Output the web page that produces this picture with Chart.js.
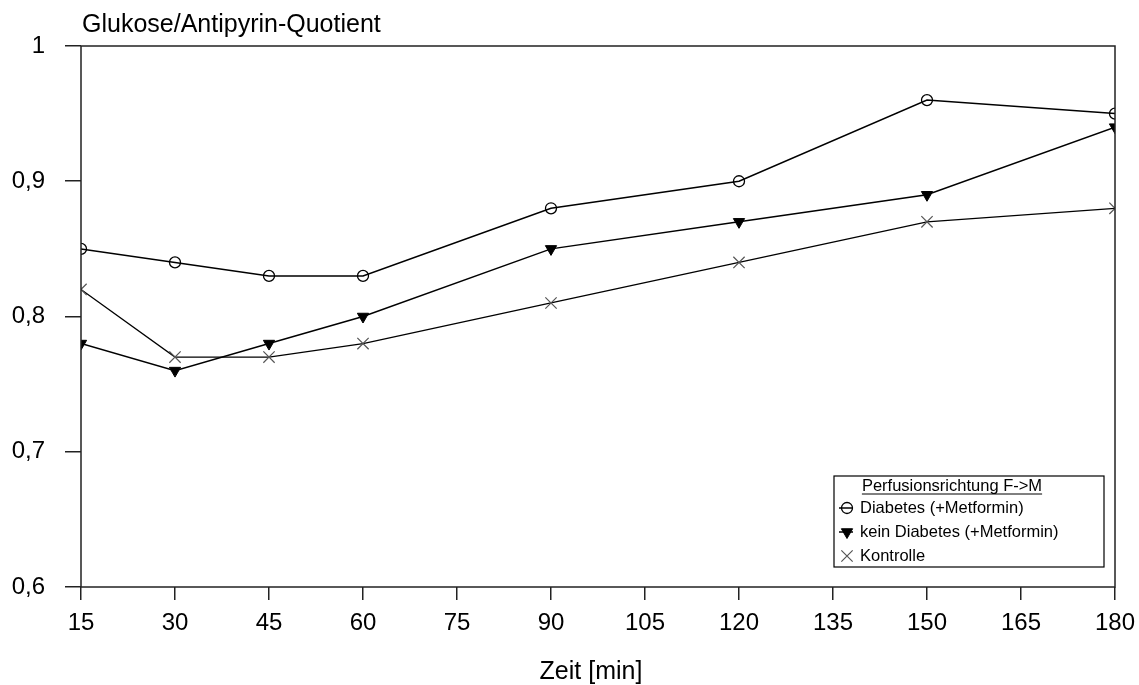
<!DOCTYPE html>
<html>
<head>
<meta charset="utf-8">
<script src="https://cdn.jsdelivr.net/npm/chart.js@4.4.1/dist/chart.umd.min.js"></script>
<style>
  html, body { margin: 0; padding: 0; background: #fff; }
  canvas { display: block; }
</style>
</head>
<body>
<canvas id="grafico" width="1139" height="685"></canvas>
<script>
// Zeitpunkte in Minuten
const zeit = [15, 30, 45, 60, 90, 120, 150, 180];

// Glukose/Antipyrin-Quotient je Gruppe
const diabetes = [0.85, 0.84, 0.83, 0.83, 0.88, 0.90, 0.96, 0.95];
const keinDiabetes = [0.78, 0.76, 0.78, 0.80, 0.85, 0.87, 0.89, 0.94];
const kontrolle = [0.82, 0.77, 0.77, 0.78, 0.81, 0.84, 0.87, 0.88];

const yTicks = [0.6, 0.7, 0.8, 0.9, 1];
const xTicks = [15, 30, 45, 60, 75, 90, 105, 120, 135, 150, 165, 180];

const schrift = "'Liberation Sans', Arial, sans-serif";

function punkte(werte) {
  return zeit.map((t, i) => ({ x: t, y: werte[i] }));
}

// Rahmen, Achsentitel und Legende werden selbst gezeichnet
const rahmenPlugin = {
  id: "rahmen",
  afterDraw(chart) {
    const ctx = chart.ctx;
    const a = chart.chartArea;
    ctx.save();
    ctx.strokeStyle = "#222";
    ctx.lineWidth = 1.5;
    ctx.strokeRect(a.left, a.top, a.right - a.left, a.bottom - a.top);

    ctx.fillStyle = "#000";
    ctx.font = "25px " + schrift;
    ctx.textBaseline = "middle";
    ctx.textAlign = "left";
    ctx.fillText("Glukose/Antipyrin-Quotient", 82, 25);
    ctx.textAlign = "center";
    ctx.fillText("Zeit [min]", 591, 672);

    // Legende
    const lx = 834, ly = 476, lw = 270, lh = 91;
    ctx.fillStyle = "#fff";
    ctx.fillRect(lx, ly, lw, lh);
    ctx.strokeStyle = "#000";
    ctx.lineWidth = 1.2;
    ctx.strokeRect(lx, ly, lw, lh);

    ctx.fillStyle = "#000";
    ctx.font = "16.5px " + schrift;
    const titel = "Perfusionsrichtung F->M";
    const tw = ctx.measureText(titel).width;
    ctx.textAlign = "center";
    ctx.fillText(titel, 952, 486);
    ctx.lineWidth = 1;
    ctx.beginPath();
    ctx.moveTo(952 - tw / 2, 494);
    ctx.lineTo(952 + tw / 2, 494);
    ctx.stroke();

    const eintraege = chart.data.datasets;
    const zeilen = [508, 532, 556];
    ctx.textAlign = "left";
    eintraege.forEach((ds, i) => {
      const y = zeilen[i];
      if (ds.legendLinie) {
        ctx.strokeStyle = "#000";
        ctx.lineWidth = 1.5;
        ctx.beginPath();
        ctx.moveTo(839, y);
        ctx.lineTo(853, y);
        ctx.stroke();
      }
      ctx.strokeStyle = ds.pointBorderColor;
      ctx.fillStyle = ds.pointBackgroundColor;
      ctx.lineWidth = ds.pointBorderWidth;
      Chart.helpers.drawPoint(ctx, {
        pointStyle: ds.pointStyle,
        radius: ds.pointRadius,
        rotation: ds.pointRotation || 0,
        borderWidth: ds.pointBorderWidth
      }, 847, y);
      ctx.fillStyle = "#000";
      ctx.fillText(ds.label, 860, y);
    });
    ctx.restore();
  }
};

new Chart(document.getElementById("grafico").getContext("2d"), {
  type: "scatter",
  data: {
    datasets: [
      {
        label: "Diabetes (+Metformin)",
        data: punkte(diabetes),
        showLine: true,
        borderColor: "#000",
        borderWidth: 1.5,
        pointStyle: "circle",
        pointRadius: 5.5,
        pointBorderWidth: 1.3,
        pointBorderColor: "#000",
        pointBackgroundColor: "rgba(0,0,0,0)",
        legendLinie: true
      },
      {
        label: "kein Diabetes (+Metformin)",
        data: punkte(keinDiabetes),
        showLine: true,
        borderColor: "#000",
        borderWidth: 1.5,
        pointStyle: "triangle",
        pointRotation: 180,
        pointRadius: 6.5,
        pointBorderWidth: 1,
        pointBorderColor: "#000",
        pointBackgroundColor: "#000",
        legendLinie: true
      },
      {
        label: "Kontrolle",
        data: punkte(kontrolle),
        showLine: true,
        borderColor: "#000",
        borderWidth: 1.3,
        pointStyle: "crossRot",
        pointRadius: 8,
        pointBorderWidth: 1.2,
        pointBorderColor: "#555",
        pointBackgroundColor: "#555",
        legendLinie: false
      }
    ]
  },
  options: {
    responsive: false,
    animation: false,
    layout: { padding: { left: 0, right: 24, top: 46, bottom: 0 } },
    plugins: {
      legend: { display: false },
      tooltip: { enabled: false }
    },
    scales: {
      x: {
        type: "linear",
        min: 15,
        max: 180,
        afterBuildTicks(scale) {
          scale.ticks = xTicks.map(v => ({ value: v }));
        },
        afterFit(scale) {
          scale.height = 98;
          scale.paddingLeft = 0;
          scale.paddingRight = 0;
        },
        grid: {
          drawOnChartArea: false,
          drawTicks: true,
          tickLength: 13,
          color: "#222",
          lineWidth: 1.5
        },
        border: { display: false },
        ticks: {
          color: "#000",
          font: { family: schrift, size: 24 },
          padding: 9,
          maxRotation: 0
        }
      },
      y: {
        min: 0.6,
        max: 1,
        afterBuildTicks(scale) {
          scale.ticks = yTicks.map(v => ({ value: v }));
        },
        afterFit(scale) {
          scale.width = 81;
          scale.paddingTop = 0;
          scale.paddingBottom = 0;
        },
        grid: {
          drawOnChartArea: false,
          drawTicks: true,
          tickLength: 16,
          color: "#222",
          lineWidth: 1.5
        },
        border: { display: false },
        ticks: {
          color: "#000",
          font: { family: schrift, size: 24 },
          padding: 20,
          callback: v => String(v).replace(".", ",")
        }
      }
    }
  },
  plugins: [rahmenPlugin]
});
</script>
</body>
</html>
